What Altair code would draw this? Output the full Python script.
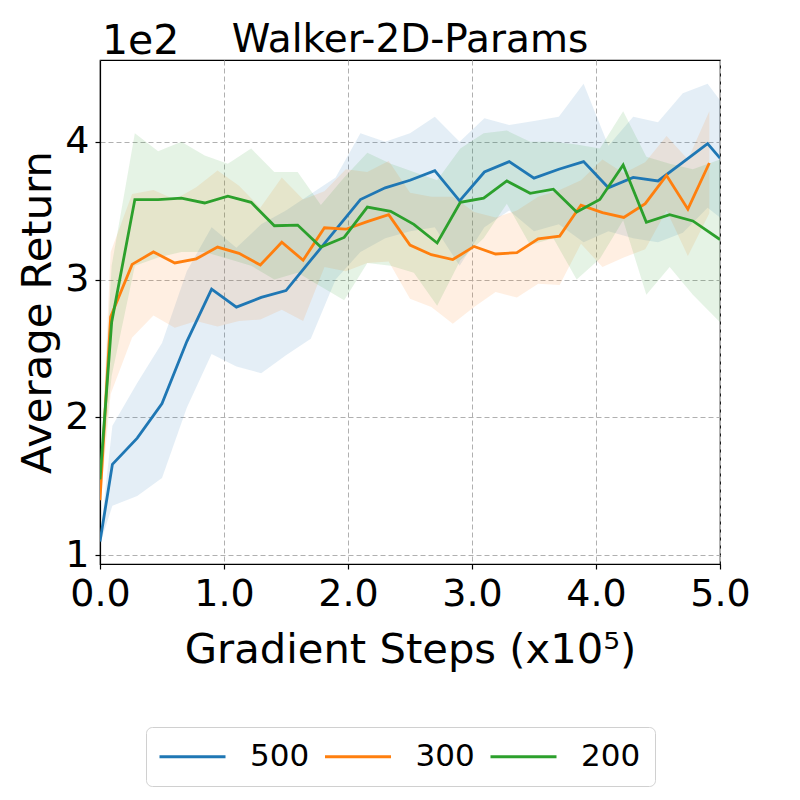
import altair as alt
import pandas as pd

# ---- data (values in units of 1e2) ----
series_names = ["500", "300", "200"]
series_colors = ["#1f77b4", "#ff7f0e", "#2ca02c"]

x_500 = [0.0, 0.1, 0.3, 0.5, 0.7, 0.9, 1.1, 1.3, 1.5, 1.7, 1.9, 2.1, 2.3, 2.5, 2.7,
         2.9, 3.1, 3.3, 3.5, 3.7, 3.9, 4.1, 4.3, 4.5, 4.7, 4.9, 5.0]
mean_500 = [1.10, 1.66, 1.85, 2.10, 2.55, 2.93, 2.80, 2.87, 2.92, 3.14, 3.36, 3.58, 3.665, 3.72, 3.79,
            3.57, 3.78, 3.855, 3.735, 3.80, 3.855, 3.665, 3.74, 3.715, 3.85, 3.985, 3.88]
hi_500 = [1.12, 1.94, 2.25, 2.54, 3.06, 3.38, 3.23, 3.40, 3.50, 3.62, 3.74, 4.06, 4.00, 4.06, 4.18,
          4.00, 4.17, 4.12, 4.15, 4.18, 4.42, 3.97, 4.18, 4.14, 4.35, 4.42, 4.30]
lo_500 = [1.08, 1.36, 1.43, 1.56, 2.07, 2.46, 2.37, 2.32, 2.45, 2.57, 3.00, 3.20, 3.30, 3.35, 3.38,
          3.10, 3.38, 3.50, 3.35, 3.40, 3.27, 3.35, 3.30, 3.27, 3.34, 3.52, 3.45]

x_300 = [0.0, 0.086, 0.259, 0.431, 0.603, 0.776, 0.948, 1.121, 1.293, 1.466, 1.638, 1.81, 1.983,
         2.155, 2.328, 2.5, 2.672, 2.845, 3.017, 3.19, 3.362, 3.534, 3.707, 3.879, 4.052, 4.224,
         4.397, 4.569, 4.741, 4.914]
mean_300 = [1.40, 2.73, 3.11, 3.20, 3.12, 3.15, 3.235, 3.19, 3.105, 3.27, 3.14, 3.375, 3.365,
            3.42, 3.47, 3.25, 3.18, 3.145, 3.24, 3.185, 3.195, 3.295, 3.315, 3.54, 3.485, 3.45,
            3.55, 3.755, 3.51, 3.845]
hi_300 = [1.50, 3.20, 3.62, 3.65, 3.58, 3.67, 3.79, 3.68, 3.52, 3.74, 3.58, 3.64, 3.80,
          3.78, 3.86, 3.63, 3.60, 3.60, 3.49, 3.45, 3.50, 3.60, 3.65, 3.72, 3.87, 3.77,
          3.85, 4.04, 3.87, 4.22]
lo_300 = [1.35, 2.17, 2.58, 2.74, 2.65, 2.70, 2.66, 2.70, 2.71, 2.78, 2.70, 3.09, 3.06,
          3.12, 3.13, 2.86, 2.80, 2.68, 2.80, 2.91, 2.87, 2.97, 2.96, 3.26, 3.09, 3.16,
          3.22, 3.50, 3.17, 3.48]

x_200 = [0.0, 0.094, 0.281, 0.469, 0.656, 0.844, 1.031, 1.219, 1.406, 1.594, 1.781, 1.969, 2.156,
         2.344, 2.531, 2.719, 2.906, 3.094, 3.281, 3.469, 3.656, 3.844, 4.031, 4.219, 4.406,
         4.594, 4.781, 5.0]
mean_200 = [1.55, 2.69, 3.58, 3.58, 3.59, 3.555, 3.605, 3.56, 3.39, 3.395, 3.235, 3.305, 3.525,
            3.495, 3.40, 3.265, 3.56, 3.59, 3.715, 3.625, 3.655, 3.49, 3.58, 3.83, 3.415,
            3.47, 3.425, 3.29]
hi_200 = [1.60, 3.10, 4.06, 3.93, 4.00, 3.90, 3.84, 3.95, 3.78, 3.78, 3.54, 3.74, 3.92,
          3.84, 3.78, 3.72, 3.95, 4.06, 4.08, 4.00, 4.00, 3.98, 3.95, 4.22, 3.89,
          3.84, 3.80, 3.87]
lo_200 = [1.50, 2.30, 3.10, 3.16, 3.20, 3.20, 3.15, 3.10, 3.00, 3.05, 2.95, 2.85, 3.12,
          3.10, 3.05, 2.81, 3.14, 3.30, 3.55, 3.25, 3.30, 3.00, 3.15, 3.43, 2.89,
          3.09, 2.89, 2.69]

x_ticks = [0, 1, 2, 3, 4, 5]
y_ticks = [1, 2, 3, 4]

chart_title = "Walker-2D-Params"
offset_text = "1e2"
x_title = "Gradient Steps (x10\u2075)"
y_title = "Average Return"

# ---- build long table ----
rows = []
for name, xs, ms, los, his in [
    ("500", x_500, mean_500, lo_500, hi_500),
    ("300", x_300, mean_300, lo_300, hi_300),
    ("200", x_200, mean_200, lo_200, hi_200),
]:
    for x, m, lo, hi in zip(xs, ms, los, his):
        rows.append({"series": name, "band": name, "x": x, "mean": m, "lo": lo, "hi": hi,
                     "order": series_names.index(name)})
df = pd.DataFrame(rows)

FONT = "DejaVu Sans"
xscale = alt.Scale(domain=[0, 5], nice=False, zero=False)
yscale = alt.Scale(domain=[0.937, 4.592], nice=False, zero=False)

x_axis = alt.Axis(values=x_ticks, format=".1f", title=x_title, labelFlush=False,
                  labelOverlap=False, titleX=310, titleY=98, titleBaseline="alphabetic",
                  titleAlign="center")
y_axis = alt.Axis(values=y_ticks, format="d", title=y_title, labelOverlap=False,
                  titleAngle=270, titleX=-50, titleY=252, titleBaseline="alphabetic",
                  titleAlign="center")

bands = alt.Chart(df).mark_area(opacity=0.12, clip=True).encode(
    x=alt.X("x:Q", scale=xscale, axis=x_axis),
    y=alt.Y("lo:Q", scale=yscale, axis=y_axis),
    y2="hi:Q",
    color=alt.Color("band:N", scale=alt.Scale(domain=series_names, range=series_colors),
                    legend=None),
    detail="series:N",
)

lines = alt.Chart(df).mark_line(strokeWidth=2.8, clip=True).encode(
    x=alt.X("x:Q", scale=xscale),
    y=alt.Y("mean:Q", scale=yscale),
    color=alt.Color(
        "series:N",
        scale=alt.Scale(domain=series_names, range=series_colors),
        sort=series_names,
        legend=alt.Legend(
            title=None, orient="none", legendX=46, legendY=667, direction="horizontal",
            symbolType="M-1.4545,0L4.5455,0", symbolSize=484, symbolStrokeWidth=3,
            symbolFillColor="transparent",
            labelFontSize=31, labelFont=FONT, labelColor="black", labelOffset=59,
            columnPadding=8.5, padding=14, strokeColor="#d0d0d0", cornerRadius=6,
            fillColor="white", labelLimit=200,
        ),
    ),
    order="order:Q",
)

txt = pd.DataFrame({"t": [chart_title], "o": [offset_text]})
title_mark = alt.Chart(txt).mark_text(fontSize=39, font=FONT, align="center",
                                      baseline="alphabetic", color="black").encode(
    x=alt.value(310), y=alt.value(-8), text="t:N")
offset_mark = alt.Chart(txt).mark_text(fontSize=41, font=FONT, align="left",
                                       baseline="alphabetic", color="black").encode(
    x=alt.value(2), y=alt.value(-6), text="o:N")

chart = alt.layer(bands, lines, title_mark, offset_mark).resolve_scale(
    color="independent"
).properties(
    width=620, height=504,
    padding={"left": 92, "top": 52, "right": 70, "bottom": 226},
    autosize="none",
).configure_view(
    stroke="black", strokeWidth=1.2
).configure_axis(
    labelFont=FONT, labelFontSize=38, labelColor="black", labelPadding=6,
    titleFont=FONT, titleFontSize=41.7, titleFontWeight="normal", titleColor="black",
    tickColor="black", tickSize=5, tickWidth=1.2, domainColor="black", domainWidth=1.2,
    grid=True, gridColor="#b0b0b0", gridDash=[5, 3], gridWidth=1,
)

chart.save("out.html", embed_options={"renderer": "svg", "actions": False})
